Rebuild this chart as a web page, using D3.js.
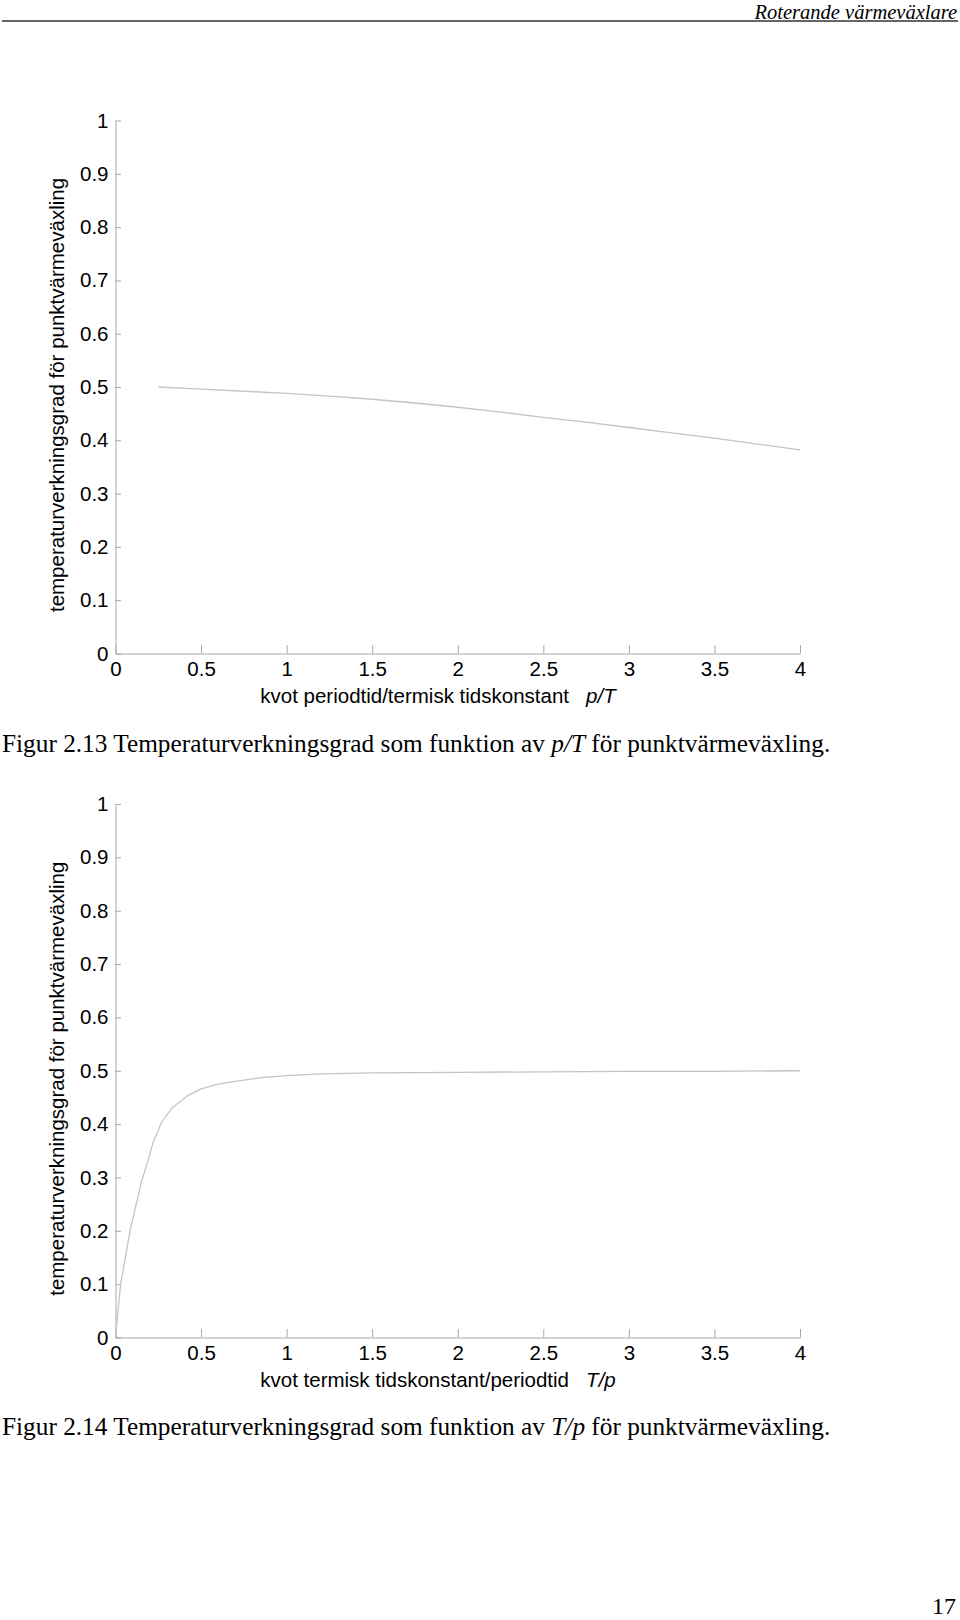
<!DOCTYPE html>
<html>
<head>
<meta charset="utf-8">
<script src="https://cdn.jsdelivr.net/npm/d3@7"></script>
<style>
  html, body { margin: 0; padding: 0; background: #fff; }
  svg { display: block; }
  .serif { font-family: "Liberation Serif", "Times New Roman", serif; }
  .sans { font-family: "Liberation Sans", Arial, sans-serif; }
  text { white-space: pre; }
</style>
</head>
<body>
<svg id="page"></svg>
<script>
// --- data ---
const xTicks = [0, 0.5, 1, 1.5, 2, 2.5, 3, 3.5, 4];
const yTicks = [0, 0.1, 0.2, 0.3, 0.4, 0.5, 0.6, 0.7, 0.8, 0.9, 1];

// Fig 2.13: efficiency vs p/T
const ratioPT = [0.25, 0.5, 0.75, 1, 1.25, 1.5, 1.75, 2, 2.25, 2.5, 2.75, 3, 3.25, 3.5, 3.75, 4];
const effPT = [0.500, 0.496, 0.492, 0.488, 0.483, 0.477, 0.470, 0.462, 0.453, 0.443, 0.434, 0.424, 0.414, 0.404, 0.393, 0.382];

// Fig 2.14: efficiency vs T/p
const ratioTP = [0, 0.03, 0.085, 0.15, 0.19, 0.22, 0.27, 0.33, 0.42, 0.5, 0.6, 0.7, 0.85, 1, 1.2, 1.5, 2, 2.5, 3, 3.5, 4];
const effTP = [0, 0.1, 0.2, 0.29, 0.332, 0.366, 0.404, 0.43, 0.453, 0.466, 0.475, 0.48, 0.487, 0.491, 0.494, 0.496, 0.497, 0.498, 0.499, 0.499, 0.5];

const yLabel = 'temperaturverkningsgrad för punktvärmeväxling';

const W = 960, H = 1620;
const svg = d3.select('#page').attr('width', W).attr('height', H);

svg.append('rect').attr('width', W).attr('height', H).attr('fill', '#fff');

// page header
svg.append('text')
  .attr('class', 'serif')
  .attr('x', 957).attr('y', 18.8)
  .attr('text-anchor', 'end')
  .attr('font-size', 20.5)
  .attr('font-style', 'italic')
  .text('Roterande värmeväxlare');

svg.append('line')
  .attr('x1', 2).attr('x2', 958)
  .attr('y1', 21).attr('y2', 21)
  .attr('stroke', '#333')
  .attr('stroke-width', 1.5);

const x = d3.scaleLinear().domain([0, 4]).range([115.5, 800]);

function drawPanel(y0, y1, xs, ys, xTitle, xVar) {
  const y = d3.scaleLinear().domain([0, 1]).range([y0, y1]);
  const g = svg.append('g').attr('class', 'sans');

  const yAxis = g.append('g')
    .attr('transform', `translate(${x(0)},0)`)
    .call(d3.axisLeft(y)
      .tickValues(yTicks)
      .tickFormat(d => String(+d.toFixed(1)))
      .tickSizeInner(-5.5)
      .tickSizeOuter(0)
      .tickPadding(7));

  const xAxis = g.append('g')
    .attr('transform', `translate(0,${y0})`)
    .call(d3.axisBottom(x)
      .tickValues(xTicks)
      .tickFormat(d => String(d))
      .tickSizeInner(-8.5)
      .tickSizeOuter(0)
      .tickPadding(8.2));

  for (const ax of [yAxis, xAxis]) {
    ax.attr('font-family', null).attr('font-size', 20.5);
    ax.select('.domain').attr('stroke', '#a8a8a8');
    ax.selectAll('.tick line').attr('stroke', '#a8a8a8');
    ax.selectAll('.tick text').attr('fill', '#000');
  }

  g.append('path')
    .datum(xs.map((v, i) => [v, ys[i]]))
    .attr('fill', 'none')
    .attr('stroke', '#c4c4c4')
    .attr('stroke-width', 1.3)
    .attr('d', d3.line().x(d => x(d[0])).y(d => y(d[1])));

  // y title
  g.append('text')
    .attr('transform', `translate(63.5,${(y0 + y1) / 2 + 8}) rotate(-90)`)
    .attr('text-anchor', 'middle')
    .attr('font-size', 20.5)
    .text(yLabel);

  // x title
  const xt = g.append('text')
    .attr('x', 438).attr('y', y0 + 49.5)
    .attr('text-anchor', 'middle')
    .attr('font-size', 20.5);
  xt.append('tspan').text(xTitle + '   ');
  xt.append('tspan').attr('font-style', 'italic').text(xVar);
}

function caption(yb, num, variable) {
  const t = svg.append('text')
    .attr('class', 'serif')
    .attr('x', 2).attr('y', yb)
    .attr('font-size', 25.3);
  t.append('tspan').text(`Figur ${num} Temperaturverkningsgrad som funktion av `);
  t.append('tspan').attr('font-style', 'italic').text(variable);
  t.append('tspan').text(' för punktvärmeväxling.');
}

drawPanel(653.5, 120.5, ratioPT, effPT, 'kvot periodtid/termisk tidskonstant', 'p/T');
caption(752, '2.13', 'p/T');

drawPanel(1337.5, 804, ratioTP, effTP, 'kvot termisk tidskonstant/periodtid', 'T/p');
caption(1435, '2.14', 'T/p');

// page number
svg.append('text')
  .attr('class', 'serif')
  .attr('x', 956).attr('y', 1614)
  .attr('text-anchor', 'end')
  .attr('font-size', 24)
  .text('17');
</script>
</body>
</html>
